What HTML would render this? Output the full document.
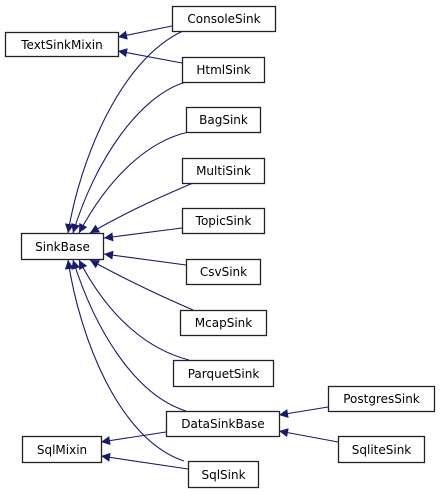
<!DOCTYPE html>
<html><head><meta charset="utf-8"><style>
html,body{margin:0;padding:0;background:#fff;width:440px;height:493px;overflow:hidden}
</style></head><body>
<svg width="440" height="493" viewBox="0 0 440 493" xmlns="http://www.w3.org/2000/svg">
<defs>
<marker id="a" viewBox="0 0 10 10" refX="10" refY="5" markerWidth="11" markerHeight="9" markerUnits="userSpaceOnUse" orient="auto-start-reverse">
<path d="M0,0 L10,5 L0,10 Z" fill="#191970"/>
</marker>
</defs>
<g fill="none" stroke="#191970" stroke-width="1.1" marker-start="url(#a)">
<path d="M68,233 C80,160 120,60 183,31"/>
<path d="M73,233 C95,160 140,95 186,82"/>
<path d="M79,233 C110,175 150,140 189,132"/>
<path d="M90,233 C130,210 165,195 193,183"/>
<path d="M104,238 L182,228"/>
<path d="M104,254 L186,265"/>
<path d="M90,260 C130,282 165,298 193,310"/>
<path d="M79,260 C110,320 150,350 189,360"/>
<path d="M73,260 C95,330 135,395 186,411"/>
<path d="M68,260 C80,340 120,440 184,461"/>
<path d="M118,37 L172,26"/>
<path d="M118,51 L182,63"/>
<path d="M101,442 L166,432"/>
<path d="M101,456 L188,469"/>
<path d="M279,415 L328,407"/>
<path d="M279,431 L338,442"/>
</g>
<g fill="#fff" stroke="#222" stroke-width="1.3">
<rect x="172.5" y="6.5" width="103" height="25"/>
<rect x="5.5" y="32.5" width="113" height="24"/>
<rect x="182.5" y="57.5" width="82" height="25"/>
<rect x="186.5" y="107.5" width="74" height="25"/>
<rect x="182.5" y="158.5" width="82" height="25"/>
<rect x="182.5" y="208.5" width="82" height="25"/>
<rect x="21.5" y="233.5" width="82" height="26"/>
<rect x="186.5" y="259.5" width="74" height="25"/>
<rect x="180.5" y="310.5" width="86" height="25"/>
<rect x="173.5" y="360.5" width="100" height="26"/>
<rect x="166.5" y="411.5" width="113" height="25"/>
<rect x="328.5" y="386.5" width="106" height="25"/>
<rect x="338.5" y="436.5" width="86" height="26"/>
<rect x="22.5" y="436.5" width="79" height="26"/>
<rect x="188.5" y="461.5" width="70" height="26"/>
</g>
<g font-family="DejaVu Sans, Liberation Sans, sans-serif" font-size="12" fill="#000" text-anchor="middle">
<text x="224" y="23">ConsoleSink</text>
<text x="62" y="49">TextSinkMixin</text>
<text x="223.5" y="74">HtmlSink</text>
<text x="223.5" y="124">BagSink</text>
<text x="223.5" y="175">MultiSink</text>
<text x="223.5" y="225">TopicSink</text>
<text x="62.5" y="251">SinkBase</text>
<text x="223.5" y="276">CsvSink</text>
<text x="223.5" y="327">McapSink</text>
<text x="223.5" y="378">ParquetSink</text>
<text x="223" y="428">DataSinkBase</text>
<text x="381.5" y="403">PostgresSink</text>
<text x="381.5" y="454">SqliteSink</text>
<text x="62" y="454">SqlMixin</text>
<text x="223.5" y="479">SqlSink</text>
</g>
</svg>
</body></html>
